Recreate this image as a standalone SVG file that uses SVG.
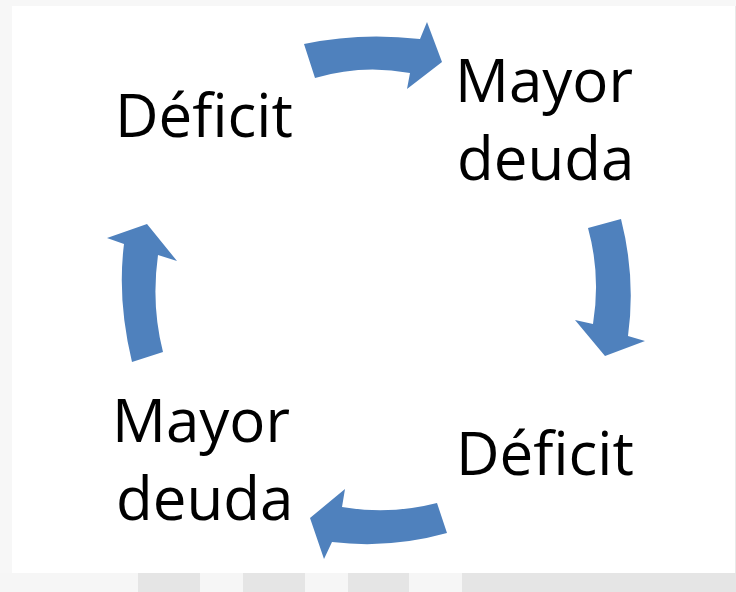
<svg xmlns="http://www.w3.org/2000/svg" width="736" height="592" viewBox="0 0 736 592">
<style>
.lbl{font-family:"Open Sans","Noto Sans","Liberation Sans",sans-serif;font-size:60px;fill:#000}
.arr{fill:#4F81BD}
.tl{fill:#f6f6f6}
.td{fill:#e5e5e5}
</style>
<rect x="0" y="0" width="736" height="592" fill="#f7f7f7"/>
<rect x="0" y="573" width="138" height="19" class="tl"/>
<rect x="138" y="573" width="62" height="19" class="td"/>
<rect x="200" y="573" width="43" height="19" class="tl"/>
<rect x="243" y="573" width="62" height="19" class="td"/>
<rect x="305" y="573" width="43" height="19" class="tl"/>
<rect x="348" y="573" width="61" height="19" class="td"/>
<rect x="409" y="573" width="53" height="19" class="tl"/>
<rect x="462" y="573" width="274" height="19" class="td"/>
<rect x="735" y="6" width="1" height="567" fill="#e8e8e8"/>
<rect x="12" y="6" width="723" height="567" fill="#ffffff"/>
<g id="connectors">
<path class="arr" d="M304,44 Q360,32 420,39 L427,22 L442,62 L407,89 L410,73 Q362,64 315,78 Z"/>
<path class="arr" d="M588,228 L621,219 Q636,278 628,336 L645,341 L605,356 L575,320 L593,324 Q601,275 588,228 Z"/>
<path class="arr" d="M437,503 L447,533 Q390,549 332,542 L324,559 L310,518 L345,489 L342,507 Q390,515 437,503 Z"/>
<path class="arr" d="M132,362 Q117,300 124,244 L107,238 L147,224 L177,261 L158,255 Q151,305 163,352 Z"/>
</g>
<g id="node-deficit-top">
<text class="lbl" x="115" y="137">Déficit</text>
</g>
<g id="node-deuda-top">
<text class="lbl" x="455" y="102">Mayor</text>
<text class="lbl" x="457" y="180">deuda</text>
</g>
<g id="node-deficit-bottom">
<text class="lbl" x="456" y="475">Déficit</text>
</g>
<g id="node-deuda-bottom">
<text class="lbl" x="112" y="442">Mayor</text>
<text class="lbl" x="116" y="520">deuda</text>
</g>
</svg>
